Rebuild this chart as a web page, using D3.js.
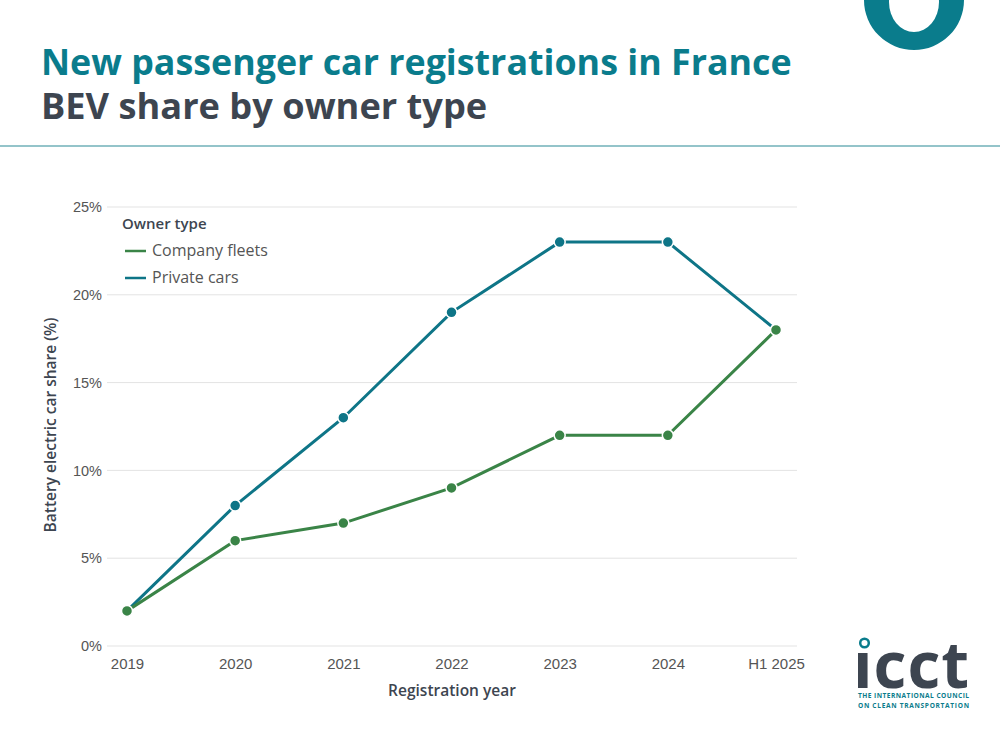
<!DOCTYPE html>
<html>
<head>
<meta charset="utf-8">
<script src="https://cdn.jsdelivr.net/npm/d3@7"></script>
<style>
  body { margin: 0; background: #fff; }
  svg { font-family: "Open Sans", "Noto Sans", sans-serif; }
</style>
</head>
<body>
<svg width="1000" height="747"></svg>
<script>
const years = ["2019", "2020", "2021", "2022", "2023", "2024", "H1 2025"];
const companyFleets = [2, 6, 7, 9, 12, 12, 18];
const privateCars = [2, 8, 13, 19, 23, 23, 18];
const yTicks = [0, 5, 10, 15, 20, 25];

const teal = "#0e7587", green = "#3a8447", dark = "#3d4550";

const svg = d3.select("svg");

// header
svg.append("text").attr("x", 41).attr("y", 75)
    .attr("fill", "#0a7c8c").attr("font-size", 35.8).attr("font-weight", 700)
    .text("New passenger car registrations in France");
svg.append("text").attr("x", 41).attr("y", 119)
    .attr("fill", dark).attr("font-size", 36.2).attr("font-weight", 700)
    .text("BEV share by owner type");
svg.append("line").attr("x1", 0).attr("x2", 1000).attr("y1", 146).attr("y2", 146)
    .attr("stroke", "#2a8a96").attr("stroke-width", 1.2);

// ring at top right
svg.append("path")
    .attr("d", "M864,0 a50,50 0 1 0 100,0 a50,50 0 1 0 -100,0 Z M889,2 a25,30 0 1 0 50,0 a25,30 0 1 0 -50,0 Z")
    .attr("fill", "#0a7c8c").attr("fill-rule", "evenodd");

const margin = { top: 207, left: 127, right: 224, bottom: 101 },
    width = 1000 - margin.left - margin.right,
    height = 747 - margin.top - margin.bottom;

const g = svg.append("g").attr("transform", `translate(${margin.left},${margin.top})`);

const x = d3.scalePoint().domain(years).range([0, width]);
const y = d3.scaleLinear().domain([0, 25]).range([height, 0]);

// grid
g.selectAll(".grid").data(yTicks).enter().append("line")
    .attr("x1", -20).attr("x2", width + 21)
    .attr("y1", d => y(d)).attr("y2", d => y(d))
    .attr("stroke", "#e3e3e3").attr("stroke-width", 1);

const yAxis = g.append("g").call(d3.axisLeft(y).tickValues(yTicks).tickSize(0).tickPadding(25).tickFormat(d => d + "%"));
yAxis.select(".domain").remove();
yAxis.selectAll("text").attr("font-size", 14.5).attr("fill", "#555").attr("font-family", "inherit");

const xAxis = g.append("g").attr("transform", `translate(0,${height})`)
    .call(d3.axisBottom(x).tickSize(0).tickPadding(12));
xAxis.select(".domain").remove();
xAxis.selectAll("text").attr("font-size", 15).attr("fill", "#555").attr("font-family", "inherit");

svg.append("text").attr("x", 452).attr("y", 696).attr("text-anchor", "middle")
    .attr("font-size", 15.5).attr("font-weight", 600).attr("fill", dark)
    .text("Registration year");
svg.append("text").attr("transform", "translate(56,425) rotate(-90)").attr("text-anchor", "middle")
    .attr("font-size", 15.5).attr("font-weight", 600).attr("fill", dark)
    .text("Battery electric car share (%)");

const series = [
    { name: "Company fleets", values: companyFleets, color: green },
    { name: "Private cars", values: privateCars, color: teal }
];

const line = d3.line().x((d, i) => x(years[i])).y(d => y(d));

// draw private first so company on top at 2019
[series[1], series[0]].forEach(s => {
    g.append("path").datum(s.values)
        .attr("d", line).attr("fill", "none")
        .attr("stroke", s.color).attr("stroke-width", 3);
    g.selectAll(null).data(s.values).enter().append("circle")
        .attr("cx", (d, i) => x(years[i])).attr("cy", d => y(d))
        .attr("r", 5.5).attr("fill", s.color)
        .attr("stroke", "#fff").attr("stroke-width", 1.5);
});

// legend
const lg = svg.append("g").attr("transform", "translate(122,224)");
lg.append("text").attr("x", 0).attr("y", 5).attr("font-size", 15).attr("font-weight", 600)
    .attr("fill", dark).text("Owner type");
series.forEach((s, i) => {
    const yy = 27 + i * 27;
    lg.append("line").attr("x1", 3).attr("x2", 24).attr("y1", yy).attr("y2", yy)
        .attr("stroke", s.color).attr("stroke-width", 2.5);
    lg.append("text").attr("x", 30).attr("y", yy + 5).attr("font-size", 16)
        .attr("fill", "#555").text(s.name);
});

// logo
const logo = svg.append("g");
logo.append("text").attr("x", 853).attr("y", 688)
    .attr("font-size", 64).attr("font-weight", 700).attr("fill", dark)
    .attr("letter-spacing", 1).text("\u0131cct");
logo.append("circle").attr("cx", 864.5).attr("cy", 643).attr("r", 4.3)
    .attr("fill", "none").attr("stroke", "#0a7c8c").attr("stroke-width", 2.5);
logo.append("text").attr("x", 858).attr("y", 698).attr("font-size", 6.6).attr("font-weight", 700)
    .attr("fill", "#0a7c8c").attr("textLength", 111).text("THE INTERNATIONAL COUNCIL");
logo.append("text").attr("x", 858).attr("y", 708).attr("font-size", 6.6).attr("font-weight", 700)
    .attr("fill", "#0a7c8c").attr("textLength", 111).text("ON CLEAN TRANSPORTATION");
</script>
</body>
</html>
